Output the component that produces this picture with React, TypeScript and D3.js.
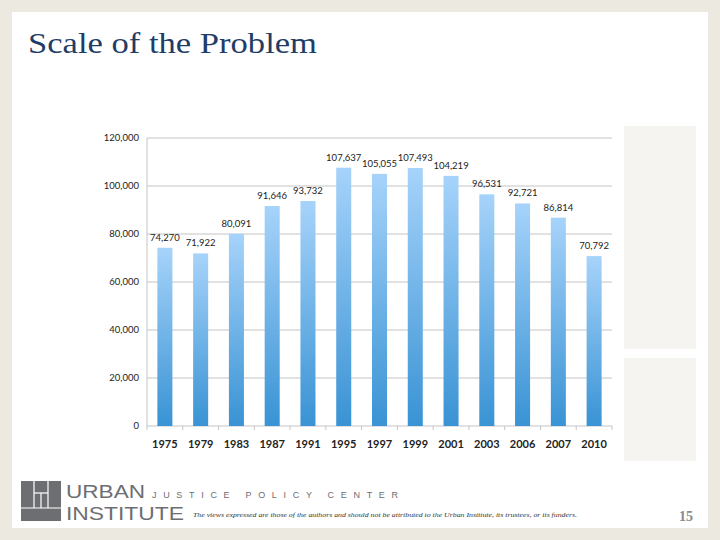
import React from 'react';
import * as d3 from 'd3';

const years = ['1975', '1979', '1983', '1987', '1991', '1995', '1997', '1999', '2001', '2003', '2006', '2007', '2010'];
const counts = [74270, 71922, 80091, 91646, 93732, 107637, 105055, 107493, 104219, 96531, 92721, 86814, 70792];
const yTicks = [0, 20000, 40000, 60000, 80000, 100000, 120000];

const W = 720;
const H = 540;
const plot = { left: 147, right: 612, top: 138, bottom: 426 };
const labelFont = 'Lato, "Open Sans", "Liberation Sans", sans-serif';

const App = () => {
  const x = d3.scaleBand().domain(years).range([plot.left, plot.right]).paddingInner(0.58).paddingOuter(0.29);
  const y = d3.scaleLinear().domain([0, 120000]).range([plot.bottom, plot.top]);
  const fmt = d3.format(',');
  const step = x.step();
  const boundaries = d3.range(years.length + 1).map(i => plot.left + i * step);

  return (
    <svg width={W} height={H} style={{ position: 'absolute', left: 0, top: 0 }}>
      <defs>
        <linearGradient id="barGrad" x1="0" y1="0" x2="0" y2="1">
          <stop offset="0%" stopColor="#a6d3fa" />
          <stop offset="100%" stopColor="#3993d4" />
        </linearGradient>
      </defs>

      {/* page background and slide */}
      <rect x={0} y={0} width={W} height={H} fill="#ece9e0" />
      <rect x={12} y={12} width={696} height={516} fill="#ffffff" />

      {/* side panels */}
      <rect x={624} y={126} width={72} height={223} fill="#f5f4f0" />
      <rect x={624} y={358} width={72} height={103} fill="#f5f4f0" />

      <text x={28} y={53} fontFamily='"Liberation Serif", "DejaVu Serif", serif' fontSize={30} fill="#1f3d66" textLength={289} lengthAdjust="spacingAndGlyphs">
        Scale of the Problem
      </text>

      {/* gridlines */}
      {yTicks.map(t => (
        <line key={t} x1={plot.left} x2={plot.right} y1={y(t)} y2={y(t)} stroke="#c4c4c4" strokeWidth={1} />
      ))}
      <line x1={plot.left} x2={plot.left} y1={plot.top} y2={plot.bottom} stroke="#c4c4c4" />
      {boundaries.map((b, i) => (
        <line key={i} x1={b} x2={b} y1={plot.bottom} y2={plot.bottom + 4} stroke="#c4c4c4" />
      ))}

      {/* y tick labels */}
      {yTicks.map(t => (
        <text key={t} x={139} y={y(t)} dy="0.35em" textAnchor="end" fontFamily={labelFont} fontSize={9.5} fill="#222">
          {fmt(t)}
        </text>
      ))}

      {/* bars */}
      {years.map((yr, i) => (
        <rect key={yr} x={x(yr)} y={y(counts[i])} width={x.bandwidth()} height={plot.bottom - y(counts[i])} fill="url(#barGrad)" />
      ))}

      {/* value labels */}
      {years.map((yr, i) => (
        <text key={yr} x={(x(yr) || 0) + x.bandwidth() / 2} y={y(counts[i]) - 7} textAnchor="middle" fontFamily={labelFont} fontSize={9.5} fill="#222">
          {fmt(counts[i])}
        </text>
      ))}

      {/* x labels */}
      {years.map(yr => (
        <text key={yr} x={(x(yr) || 0) + x.bandwidth() / 2} y={448} textAnchor="middle" fontFamily={labelFont} fontSize={11} fontWeight="bold" fill="#222">
          {yr}
        </text>
      ))}

      {/* footer logo */}
      <g>
        <rect x={21} y={481} width={40} height={40} fill="#6d6e71" />
        <line x1={34} x2={34} y1={481} y2={508} stroke="#fff" strokeWidth={1.2} />
        <line x1={48} x2={48} y1={481} y2={508} stroke="#fff" strokeWidth={1.2} />
        <line x1={21} x2={61} y1={508} y2={508} stroke="#fff" strokeWidth={1.2} />
        <line x1={34} x2={48} y1={493} y2={493} stroke="#fff" strokeWidth={1.2} />
        <line x1={41} x2={41} y1={493} y2={508} stroke="#fff" strokeWidth={1.2} />
      </g>
      <text x={66} y={498} fontFamily='"Liberation Sans", Arial, sans-serif' fontSize={18} fill="#6d6e71" textLength={79} lengthAdjust="spacingAndGlyphs">URBAN</text>
      <text x={66} y={520} fontFamily='"Liberation Sans", Arial, sans-serif' fontSize={18} fill="#6d6e71" textLength={118} lengthAdjust="spacingAndGlyphs">INSTITUTE</text>
      <text x={152} y={498} fontFamily='"Liberation Sans", Arial, sans-serif' fontSize={9} fill="#6d6e71" textLength={246} lengthAdjust="spacing">
        JUSTICE  POLICY  CENTER
      </text>
      <text x={193} y={517} fontFamily='"Liberation Serif", serif' fontStyle="italic" fontSize={6} fill="#333" textLength={384} lengthAdjust="spacingAndGlyphs">
        The views expressed are those of the authors and should not be attributed to the Urban Institute, its trustees, or its funders.
      </text>
      <text x={693} y={521} textAnchor="end" fontFamily='"Liberation Serif", serif' fontSize={14} fontWeight="bold" fill="#8a8a8a">15</text>
    </svg>
  );
};

export default App;
